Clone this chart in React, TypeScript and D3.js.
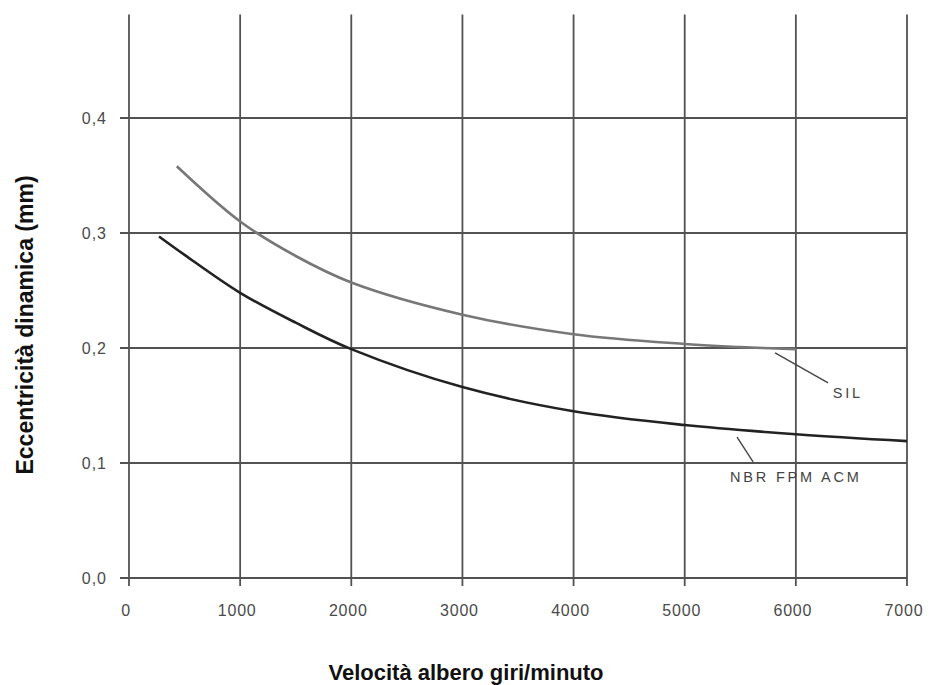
import React from "react";
import * as d3 from "d3";

const xTicks = [0, 1000, 2000, 3000, 4000, 5000, 6000, 7000];
const yTicks = [0, 0.1, 0.2, 0.3, 0.4];
const yTickLabels = ["0,0", "0,1", "0,2", "0,3", "0,4"];

const silX = [430, 1000, 1500, 2000, 3000, 4000, 5000, 5500, 6000];
const silY = [0.358, 0.31, 0.28, 0.257, 0.229, 0.212, 0.2035, 0.2008, 0.199];

const nbrX = [270, 500, 1000, 1500, 2000, 3000, 4000, 5000, 6000, 7000];
const nbrY = [0.297, 0.281, 0.248, 0.222, 0.199, 0.166, 0.145, 0.133, 0.125, 0.119];

const labels = ["SIL", "NBR FPM ACM"];
const leaderFromX = [5813, 5471];
const leaderFromY = [0.1957, 0.1226];
const leaderToX = [6290, 5615];
const leaderToY = [0.1696, 0.1009];
const labelX = [6332, 5408];
const labelY = [0.1565, 0.0835];

const xTitle = "Velocità albero giri/minuto";
const yTitle = "Eccentricità dinamica (mm)";

export default function App() {
  const W = 932;
  const H = 685;
  const x = d3.scaleLinear().domain([0, 7000]).range([129, 907]);
  const y = d3.scaleLinear().domain([0, 0.4]).range([578, 118]);
  const yTop = y(0.49);
  const line = d3
    .line<[number, number]>()
    .x((d) => x(d[0]))
    .y((d) => y(d[1]))
    .curve(d3.curveCatmullRom.alpha(0.5));
  const sil = silX.map((v, i) => [v, silY[i]] as [number, number]);
  const nbr = nbrX.map((v, i) => [v, nbrY[i]] as [number, number]);
  const font = "'Liberation Sans', Arial, Helvetica, sans-serif";
  const gridColor = "#525252";
  return (
    <svg
      width={W}
      height={H}
      style={{ position: "absolute", left: 0, top: 0, background: "#fff" }}
      fontFamily={font}
    >
      <rect x={0} y={0} width={W} height={H} fill="#fff" />
      {xTicks.map((t) => (
        <line
          key={"vx" + t}
          x1={x(t)}
          x2={x(t)}
          y1={yTop}
          y2={y(0) + 8}
          stroke={gridColor}
          strokeWidth={1.8}
        />
      ))}
      {yTicks.map((t) => (
        <line
          key={"hy" + t}
          x1={x(0) - 9}
          x2={x(7000)}
          y1={y(t)}
          y2={y(t)}
          stroke={gridColor}
          strokeWidth={t === 0 ? 2.2 : 1.8}
        />
      ))}
      {yTicks.map((t, i) => (
        <text
          key={"yl" + t}
          x={107}
          y={y(t)}
          dy="0.36em"
          textAnchor="end"
          fontSize={16}
          fill="#4a4a4a"
          letterSpacing={1}
        >
          {yTickLabels[i]}
        </text>
      ))}
      {xTicks.map((t) => (
        <text
          key={"xl" + t}
          x={x(t) - 3}
          y={616}
          textAnchor="middle"
          fontSize={16}
          fill="#4a4a4a"
          letterSpacing={0.8}
        >
          {t}
        </text>
      ))}
      <path d={line(sil) || ""} fill="none" stroke="#777" strokeWidth={2.6} />
      <path d={line(nbr) || ""} fill="none" stroke="#222" strokeWidth={2.6} />
      {labels.map((l, i) => (
        <g key={l}>
          <line
            x1={x(leaderFromX[i])}
            y1={y(leaderFromY[i])}
            x2={x(leaderToX[i])}
            y2={y(leaderToY[i])}
            stroke="#444"
            strokeWidth={1.4}
          />
          <text
            x={x(labelX[i])}
            y={y(labelY[i])}
            fontSize={14.5}
            fill="#444"
            letterSpacing={2.8}
          >
            {l}
          </text>
        </g>
      ))}
      <text
        x={466}
        y={680}
        textAnchor="middle"
        fontSize={22}
        fontWeight="bold"
        fill="#111"
      >
        {xTitle}
      </text>
      <text
        transform={`translate(33,${325}) rotate(-90)`}
        textAnchor="middle"
        fontSize={23}
        fontWeight="bold"
        fill="#111"
      >
        {yTitle}
      </text>
    </svg>
  );
}
